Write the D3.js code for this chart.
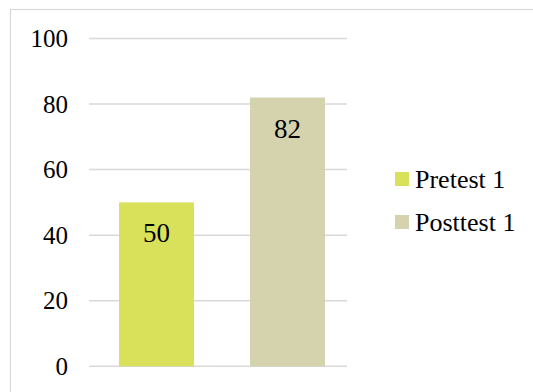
<!DOCTYPE html>
<html>
<head>
<meta charset="utf-8">
<script src="https://cdn.jsdelivr.net/npm/d3@7"></script>
<style>
  .serif-text { font-family: "Times New Roman"; }
</style>
</head>
<body style="margin:0">
<svg id="chart" width="533" height="392"></svg>
<script>
// Test scores, one bar per test
const categories = ["Pretest 1", "Posttest 1"];
const scores = [50, 82];
const colors = ["#d9e15b", "#d5d2ae"];
const yTicks = [0, 20, 40, 60, 80, 100];

const svg = d3.select("#chart");

// chart area frame
svg.append("rect")
  .attr("x", 10.5).attr("y", 9.5)
  .attr("width", 600).attr("height", 500)
  .attr("fill", "none").attr("stroke", "#d9d9d9").attr("stroke-width", 1.2);

const y = d3.scaleLinear().domain([0, 100]).range([366.3, 38.5]);
const x = d3.scaleBand().domain(categories).range([91, 353])
  .paddingInner(0.4275).paddingOuter(0.2137);

const gridX0 = 89, gridX1 = 347;

// horizontal gridlines
svg.append("g").selectAll("line").data(yTicks).join("line")
  .attr("x1", gridX0).attr("x2", gridX1)
  .attr("y1", d => y(d)).attr("y2", d => y(d))
  .attr("stroke", "#d9d9d9").attr("stroke-width", 1.5);

// y axis labels
const yAxis = d3.axisLeft(y).tickValues(yTicks).tickSize(0).tickPadding(0);
const gy = svg.append("g").attr("transform", "translate(68,0)").call(yAxis);
gy.select(".domain").remove();
gy.attr("font-family", "Tinos").attr("font-size", 25);
gy.selectAll("text").attr("fill", "#000");

// bars
const bars = categories.map((c, i) => ({ c, v: scores[i], col: colors[i] }));
svg.append("g").selectAll("rect").data(bars).join("rect")
  .attr("x", d => x(d.c)).attr("width", x.bandwidth())
  .attr("y", d => y(d.v)).attr("height", d => y(0) - y(d.v))
  .attr("fill", d => d.col);

// value labels inside bar tops
svg.selectAll("text.value").data(bars).join("text")
  .attr("class", "value serif-text")
  .attr("x", d => x(d.c) + x.bandwidth() / 2)
  .attr("y", d => y(d.v) + 40)
  .attr("text-anchor", "middle")
  .style("font-size", "27px")
  .text(d => d.v);

// legend
svg.selectAll("rect.key").data(bars).join("rect")
  .attr("class", "key")
  .attr("x", 395).attr("y", (d, i) => 172 + i * 43)
  .attr("width", 14).attr("height", 14).attr("fill", d => d.col);
svg.selectAll("text.key").data(bars).join("text")
  .attr("class", "key")
  .attr("x", 415).attr("y", (d, i) => 188 + i * 43)
  .style("font-family", '"Liberation Serif"').style("font-size", "26px")
  .text(d => d.c);
</script>
</body>
</html>
